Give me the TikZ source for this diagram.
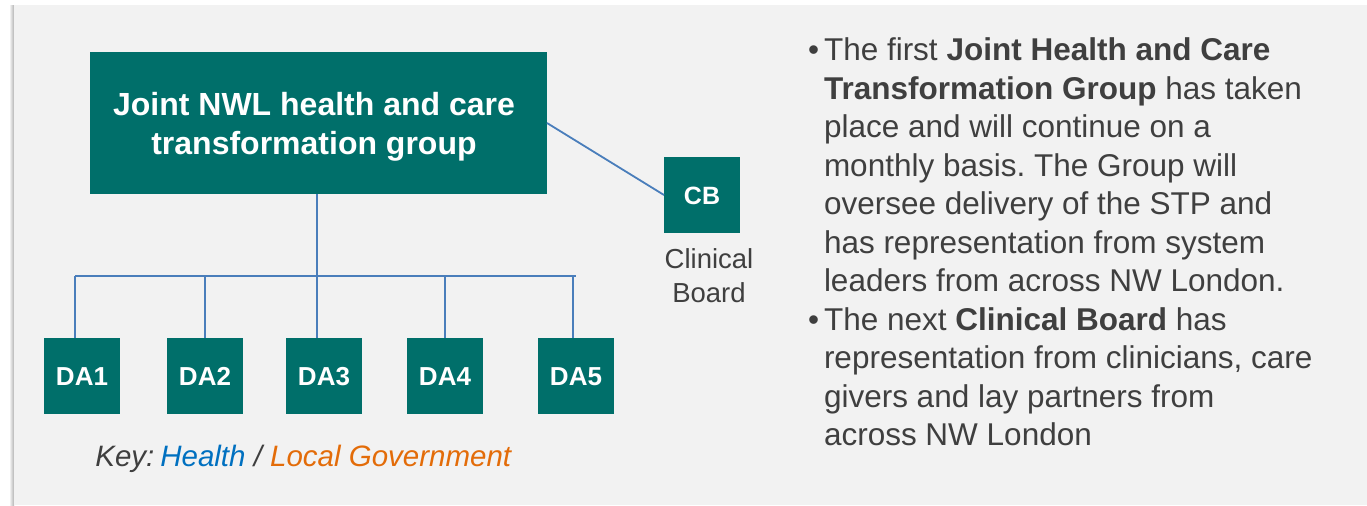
\documentclass[tikz,border=0pt]{standalone}
\usepackage{fontspec}
\setmainfont{Liberation Sans}
\frenchspacing
\definecolor{nwlteal}{RGB}{0,111,106}
\definecolor{panelgray}{HTML}{F2F2F2}
\definecolor{txtgray}{HTML}{3F3F3F}
\definecolor{connblue}{HTML}{4A7EBB}
\definecolor{keyblue}{HTML}{0070C0}
\definecolor{keyorange}{HTML}{E36C09}
\begin{document}
\begin{tikzpicture}[x=0.5pt,y=-0.5pt,
  tealbox/.style={fill=nwlteal, text=white, inner sep=0pt, outer sep=0pt},
  dabox/.style={tealbox, minimum width=38pt, minimum height=38pt, text height=9.3pt, text depth=0pt, font=\fontsize{13pt}{15pt}\selectfont\bfseries},
  conn/.style={draw=connblue, line width=0.9pt},
  bodytext/.style={text=txtgray, inner sep=0pt, outer sep=0pt, align=left, font=\fontsize{15.75pt}{19.25pt}\selectfont}]
\useasboundingbox (0,0) rectangle (1367,505);
\fill[white] (0,0) rectangle (1367,505);
\shade[left color=white, right color=black!30] (9,5) rectangle (14,505);
\fill[panelgray] (14,5) rectangle (1367,505);

% main box
\node[tealbox, minimum width=228.5pt, minimum height=71pt] (main) at (318.5,123) {};
\node[text=white, inner sep=0pt, align=center, anchor=base,
      font=\fontsize{16pt}{19.5pt}\selectfont\bfseries] (maintext) at (314,154)
      {Joint NWL health and care\\transformation group};

% clinical board
\node[dabox, text height=9pt, font=\fontsize{12.5pt}{15pt}\selectfont\bfseries] (cb) at (702,195) {CB};
\node[text=txtgray, inner sep=0pt, align=center, anchor=base,
      font=\fontsize{13.75pt}{17pt}\selectfont] (cbtext) at (709,302) {Clinical\\Board};

% delivery areas
\node[dabox] (da1) at (82,376) {DA1};
\node[dabox] (da2) at (205,376) {DA2};
\node[dabox] (da3) at (324,376) {DA3};
\node[dabox] (da4) at (445,376) {DA4};
\node[dabox] (da5) at (576,376) {DA5};

% connectors
\coordinate (b1) at (75,276);
\coordinate (b2) at (204.7,276);
\coordinate (b3) at (316.7,276);
\coordinate (b4) at (445,276);
\coordinate (b5) at (573.3,276);
\coordinate (bend) at (576,276);
\draw[conn] (b1) -- (bend);
\draw[conn] (b3 |- main.south) -- (b3 |- da3.north);
\draw[conn] (b1) -- (b1 |- da1.north);
\draw[conn] (b2) -- (b2 |- da2.north);
\draw[conn] (b4) -- (b4 |- da4.north);
\draw[conn] (b5) -- (b5 |- da5.north);
\draw[conn] (main.east) -- (cb.west);

% key
\node[inner sep=0pt, anchor=base west, text=txtgray,
      font=\fontsize{14.75pt}{17pt}\selectfont\itshape] (key) at (95,466.7)
      {Key:\hspace{0.2em}\textcolor{keyblue}{Health} / \textcolor{keyorange}{Local Government}};

% bullet text
\node[bodytext, anchor=base west] (bul1) at (808,60.7) {•};
\node[bodytext, anchor=base west] (par1) at (824,291.7)
  {The first \textbf{Joint Health and Care}\\
   \textbf{Transformation Group} has taken\\
   place and will continue on a\\
   monthly basis. The Group will\\
   oversee delivery of the STP and\\
   has representation from system\\
   leaders from across NW London.};
\node[bodytext, anchor=base west] (bul2) at (808,330.2) {•};
\node[bodytext, anchor=base west] (par2) at (824,445.7)
  {The next \textbf{Clinical Board} has\\
   representation from clinicians, care\\
   givers and lay partners from\\
   across NW London};
\end{tikzpicture}
\end{document}
